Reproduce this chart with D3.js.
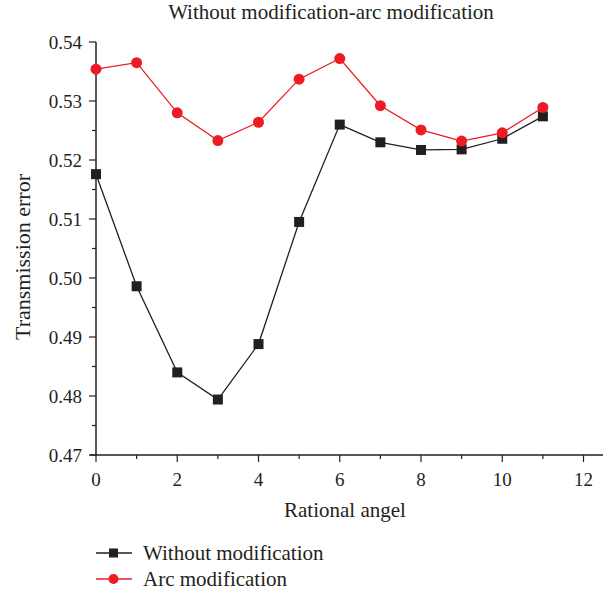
<!DOCTYPE html>
<html>
<head>
<meta charset="utf-8">
<script src="https://cdn.jsdelivr.net/npm/d3@7"></script>
<style>
body { margin: 0; background: #fff; }
</style>
</head>
<body>
<svg id="chart" width="610" height="590"></svg>
<script>
var angles = [0, 1, 2, 3, 4, 5, 6, 7, 8, 9, 10, 11];
var withoutMod = [0.5176, 0.4986, 0.4840, 0.4794, 0.4888, 0.5095, 0.5260, 0.5230, 0.5217, 0.5218, 0.5236, 0.5274];
var arcMod = [0.5354, 0.5365, 0.5280, 0.5233, 0.5264, 0.5337, 0.5372, 0.5292, 0.5251, 0.5232, 0.5246, 0.5289];
var xTicks = [0, 2, 4, 6, 8, 10, 12];
var yTicks = [0.47, 0.48, 0.49, 0.50, 0.51, 0.52, 0.53, 0.54];
var seriesNames = ["Without modification", "Arc modification"];

var svg = d3.select("#chart")
    .attr("font-family", "'Liberation Serif', 'DejaVu Serif', serif");
var ink = "#231f20", red = "#ed1c24";

var x = d3.scaleLinear().domain([0, 12]).range([96, 583.5]);
var y = d3.scaleLinear().domain([0.47, 0.54]).range([455, 42]);

// axes
var gx = svg.append("g").attr("transform", "translate(0,455)");
gx.append("line").attr("x1", 90).attr("x2", 603)
    .style("stroke", ink).style("stroke-width", 1.5);
gx.selectAll(".minor").data(d3.range(0, 13))
    .enter().append("line")
    .attr("x1", function(d) { return x(d); })
    .attr("x2", function(d) { return x(d); })
    .attr("y1", 0)
    .attr("y2", function(d) { return d % 2 == 0 ? 7 : 4; })
    .style("stroke", ink).style("stroke-width", 1.2);
gx.selectAll(".lab").data(xTicks)
    .enter().append("text")
    .attr("x", function(d) { return x(d); })
    .attr("y", 31)
    .attr("text-anchor", "middle")
    .style("font-size", "19px").style("fill", ink)
    .text(function(d) { return d; });

var gy = svg.append("g").attr("transform", "translate(96,0)");
gy.append("line").attr("y1", 42).attr("y2", 455)
    .style("stroke", ink).style("stroke-width", 1.5);
gy.selectAll(".tick").data(d3.range(0, 15))
    .enter().append("line")
    .attr("y1", function(d) { return y(0.47 + d * 0.005); })
    .attr("y2", function(d) { return y(0.47 + d * 0.005); })
    .attr("x1", function(d) { return d % 2 == 0 ? -7 : -4; })
    .attr("x2", 0)
    .style("stroke", ink).style("stroke-width", 1.2);
gy.selectAll(".lab").data(yTicks)
    .enter().append("text")
    .attr("x", -14)
    .attr("y", function(d) { return y(d); })
    .attr("dy", "0.35em")
    .attr("text-anchor", "end")
    .style("font-size", "19px").style("fill", ink)
    .text(function(d) { return d.toFixed(2); });

// titles
svg.append("text").attr("x", 331).attr("y", 19)
    .attr("text-anchor", "middle").style("font-size", "21px").style("fill", ink)
    .text("Without modification-arc modification");
svg.append("text").attr("x", 345).attr("y", 517)
    .attr("text-anchor", "middle").style("font-size", "21px").style("fill", ink)
    .text("Rational angel");
svg.append("text")
    .attr("transform", "translate(30,257) rotate(-90)")
    .attr("text-anchor", "middle").style("font-size", "22px").style("fill", ink)
    .text("Transmission error");

// series
var line = d3.line()
    .x(function(d) { return x(d.a); })
    .y(function(d) { return y(d.v); });

function pairs(vals) {
    return angles.map(function(a, i) { return {a: a, v: vals[i]}; });
}

svg.append("path").datum(pairs(withoutMod))
    .attr("d", line).style("fill", "none")
    .style("stroke", ink).style("stroke-width", 1.3);
svg.append("path").datum(pairs(arcMod))
    .attr("d", line).style("fill", "none")
    .style("stroke", red).style("stroke-width", 1.3);

svg.selectAll(".sq").data(pairs(withoutMod))
    .enter().append("rect")
    .attr("x", function(d) { return x(d.a) - 5; })
    .attr("y", function(d) { return y(d.v) - 5; })
    .attr("width", 10).attr("height", 10)
    .style("fill", ink);
svg.selectAll(".dot").data(pairs(arcMod))
    .enter().append("circle")
    .attr("cx", function(d) { return x(d.a); })
    .attr("cy", function(d) { return y(d.v); })
    .attr("r", 5.5)
    .style("fill", red);

// legend
var leg = svg.append("g");
var legY = [553, 579], legCol = [ink, red];
seriesNames.forEach(function(name, i) {
    leg.append("line").attr("x1", 96).attr("x2", 132)
        .attr("y1", legY[i]).attr("y2", legY[i])
        .style("stroke", legCol[i]).style("stroke-width", 1.3);
    if (i == 0) {
        leg.append("rect").attr("x", 109).attr("y", legY[i] - 4.5)
            .attr("width", 9).attr("height", 9).style("fill", ink);
    } else {
        leg.append("circle").attr("cx", 113.5).attr("cy", legY[i])
            .attr("r", 5).style("fill", red);
    }
    leg.append("text").attr("x", 143).attr("y", legY[i])
        .attr("dy", "0.35em").style("font-size", "21px").style("fill", ink)
        .text(name);
});
</script>
</body>
</html>
